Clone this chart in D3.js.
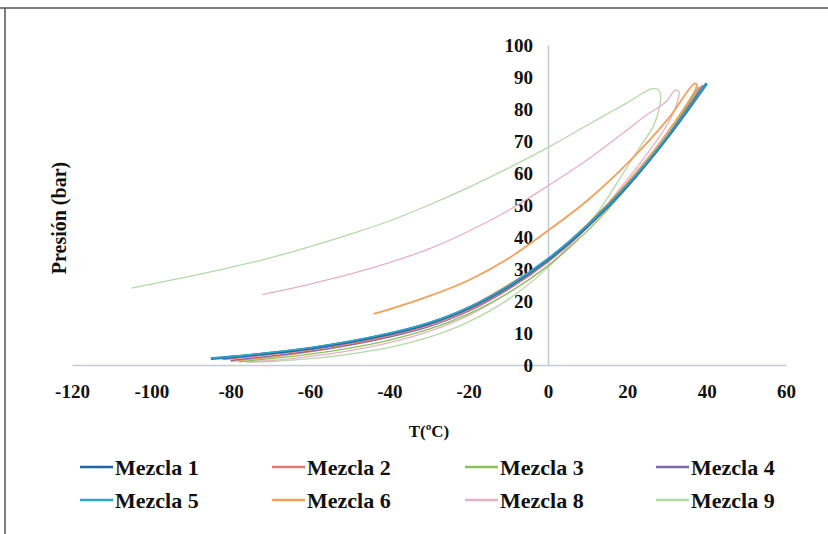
<!DOCTYPE html>
<html>
<head>
<meta charset="utf-8">
<script src="https://cdn.jsdelivr.net/npm/d3@7"></script>
<style>
  body { margin: 0; background: #fff; }
  text { font-family: "Liberation Serif", "Times New Roman", serif; font-weight: bold; fill: #111; }
</style>
</head>
<body>
<div id="chart"></div>
<script>
// Tick values
var xTicks = [-120, -100, -80, -60, -40, -20, 0, 20, 40, 60];
var yTicks = [0, 10, 20, 30, 40, 50, 60, 70, 80, 90, 100];

// Series names and colours (legend order)
var names = ['Mezcla 1', 'Mezcla 2', 'Mezcla 3', 'Mezcla 4', 'Mezcla 5', 'Mezcla 6', 'Mezcla 8', 'Mezcla 9'];
var colors = ['#1d66a8', '#e07a76', '#8cbf55', '#7d6bb0', '#2fa6c6', '#f5a05a', '#e8b0c0', '#b5d8a8'];

// [T (ºC), P (bar)] points
var mezcla1 = [[-85,2],[-80,2.5],[-70,3.7],[-60,5.2],[-50,7.2],[-40,9.7],[-30,13],[-20,17.8],[-10,24.5],[0,33],[10,43.5],[20,56],[30,71],[40,88]];
var mezcla2 = [[-82,1.7],[-70,3.3],[-60,4.8],[-50,6.7],[-40,9.2],[-30,12.5],[-20,17.2],[-10,24],[0,32.5],[10,43.2],[20,56],[30,71.3],[38.5,87]];
var mezcla3 = [[-78,1],[-70,2],[-60,3.4],[-50,5.3],[-40,7.8],[-30,11.2],[-20,16],[-10,22.5],[0,31],[10,42],[20,55.5],[30,71.5],[38,87]];
var mezcla4 = [[-80,1.4],[-70,2.8],[-60,4.3],[-50,6.2],[-40,8.7],[-30,12],[-20,16.8],[-10,23.6],[0,32.2],[10,43],[20,56],[30,71.2],[39,87.5]];
var mezcla5 = [[-85,2.1],[-80,2.6],[-70,3.9],[-60,5.4],[-50,7.4],[-40,9.9],[-30,13.2],[-20,18],[-10,24.7],[0,33.2],[10,43.7],[20,56.2],[30,71.2],[40,88]];
var mezcla6 = [[-44,16],[-40,17.4],[-30,21.5],[-20,26.5],[-10,33.3],[0,42],[10,51.5],[20,63],[30,76.5],[37,88],
               [37.5,87.5],[30,72.5],[20,57],[10,44],[0,33],[-10,25],[-20,18],[-30,12.8],[-40,9],[-50,6.3],[-60,4.2],[-70,2.5],[-80,1.2]];
var mezcla8 = [[-72,22],[-60,25.3],[-50,28.4],[-40,32],[-30,36.3],[-20,41.8],[-10,48.3],[0,56],[10,64.2],[20,73.5],[25,78.3],[28,80.6],[30,82.6],[32,85.8],[33,85.5],
               [32,80],[30,75],[25,66],[20,58],[10,43],[0,31],[-10,22.5],[-20,15.5],[-30,10.5],[-40,7],[-50,4.5],[-60,2.7],[-70,1.4],[-76,1]];
var mezcla9 = [[-105,24],[-100,25.3],[-90,27.8],[-80,30.5],[-70,33.5],[-60,37],[-50,40.8],[-40,45],[-30,50],[-20,55.5],[-10,61.5],[0,68],[10,75],[15,78.5],[20,82],[24,85],[26,86.3],[27.8,86],[28.4,84.4],
               [28,80],[26.5,74.5],[23.2,68.2],[19,60],[13,48.5],[10,44],[0,30.5],[-10,20.5],[-20,13.5],[-30,8.7],[-40,5.5],[-50,3.4],[-60,2],[-70,1.1],[-76,0.8]];

var seriesData = [mezcla1, mezcla2, mezcla3, mezcla4, mezcla5, mezcla6, mezcla8, mezcla9];
// drawing order: wide envelopes first, main curves on top
var drawOrder = [7, 6, 5, 2, 3, 1, 0, 4];
var widths = [2.8, 1.6, 1.3, 1.3, 1.6, 1.8, 1.3, 1.3];

var width = 828, height = 534;

var svg = d3.select('#chart')
  .append('svg')
    .attr('width', width)
    .attr('height', height);

// frame lines (top and left)
svg.append('line').attr('x1', 0).attr('x2', width).attr('y1', 8).attr('y2', 8)
  .attr('stroke', '#555').attr('stroke-width', 1.5);
svg.append('line').attr('x1', 5).attr('x2', 5).attr('y1', 8).attr('y2', height)
  .attr('stroke', '#555').attr('stroke-width', 1.5);

var x = d3.scaleLinear().domain([-120, 60]).range([72, 786]);
var y = d3.scaleLinear().domain([0, 100]).range([365, 45]);

// x axis along P = 0 (plain hyphen minus, as in the picture)
var xAxis = svg.append('g')
  .attr('transform', 'translate(0,' + y(0) + ')')
  .call(d3.axisBottom(x).tickValues(xTicks).tickSize(0).tickPadding(20).tickFormat(function(d){ return String(d); }));
xAxis.select('.domain').attr('stroke', '#c2ccd6').attr('stroke-width', 1.5);
xAxis.selectAll('text').style('font-size', '19px').attr('fill', '#111');

// y axis along T = 0
var yAxis = svg.append('g')
  .attr('transform', 'translate(' + x(0) + ',0)')
  .call(d3.axisLeft(y).tickValues(yTicks).tickSize(0).tickPadding(15).tickFormat(function(d){ return String(d); }));
yAxis.select('.domain').attr('stroke', '#c2ccd6').attr('stroke-width', 1.5);
yAxis.selectAll('text').style('font-size', '19px').attr('fill', '#111');

// curves
var line = d3.line()
  .x(function(d){ return x(d[0]); })
  .y(function(d){ return y(d[1]); })
  .curve(d3.curveCatmullRom.alpha(0.5));

svg.append('g').selectAll('path')
  .data(drawOrder)
  .enter().append('path')
    .attr('d', function(i){ return line(seriesData[i]); })
    .attr('fill', 'none')
    .attr('stroke', function(i){ return colors[i]; })
    .attr('stroke-width', function(i){ return widths[i]; });

// axis titles
svg.append('text')
  .attr('transform', 'translate(66,218) rotate(-90)')
  .attr('text-anchor', 'middle')
  .style('font-size', '20px')
  .text('Presión (bar)');

svg.append('text')
  .attr('x', 429).attr('y', 437)
  .attr('text-anchor', 'middle')
  .style('font-size', '17px')
  .text('T(ºC)');

// legend, 4 columns x 2 rows
var legendX = [80, 272, 465, 656];
var legendY = [467, 500];
var legend = svg.append('g').selectAll('g')
  .data(names)
  .enter().append('g')
    .attr('transform', function(d, i){ return 'translate(' + legendX[i % 4] + ',' + legendY[Math.floor(i / 4)] + ')'; });

legend.append('line')
  .attr('x1', 0).attr('x2', 33).attr('y1', 0).attr('y2', 0)
  .attr('stroke', function(d, i){ return colors[i]; })
  .attr('stroke-width', 2.5);

legend.append('text')
  .attr('x', 35).attr('y', 8)
  .style('font-size', '22px')
  .text(function(d){ return d; });
</script>
</body>
</html>
